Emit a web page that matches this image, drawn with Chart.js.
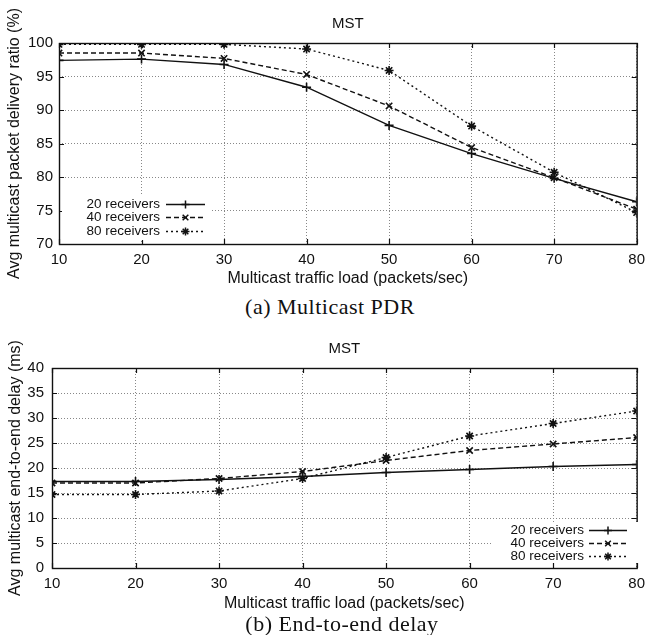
<!DOCTYPE html>
<html>
<head>
<meta charset="utf-8">
<script src="https://cdn.jsdelivr.net/npm/chart.js@4/dist/chart.umd.min.js"></script>
<style>
  body { margin: 0; background: #fff; width: 652px; height: 635px; position: relative; overflow: hidden; }
  .box { position: absolute; left: 0; width: 652px; }
  .cap { position: absolute; left: 0; width: 652px; text-align: center; font-family: "Liberation Serif", "DejaVu Serif", serif; font-size: 22px; letter-spacing: 0.5px; color: #111; }
</style>
</head>
<body>
<div class="box" style="top:0;height:290px"><canvas id="pdr"></canvas></div>
<div class="cap" id="capA" style="top:294px;left:4px">(a) Multicast PDR</div>
<div class="box" style="top:320px;height:295px"><canvas id="delay"></canvas></div>
<div class="cap" id="capB" style="top:611px;left:16px">(b) End-to-end delay</div>
<script>
// traffic load on x, one array per receiver count
var loads = [10, 20, 30, 40, 50, 60, 70, 80];
var seriesNames = ["20 receivers", "40 receivers", "80 receivers"];

var pdr20 = [97.4, 97.6, 96.8, 93.4, 87.7, 83.5, 79.8, 76.3];
var pdr40 = [98.5, 98.5, 97.7, 95.3, 90.6, 84.4, 79.9, 75.2];
var pdr80 = [99.8, 99.8, 99.8, 99.1, 95.9, 87.6, 80.7, 74.7];

var delay20 = [17.3, 17.3, 17.7, 18.3, 19.1, 19.7, 20.3, 20.7];
var delay40 = [17.0, 17.0, 17.9, 19.3, 21.5, 23.5, 24.8, 26.1];
var delay80 = [14.7, 14.7, 15.4, 17.9, 22.1, 26.4, 28.9, 31.4];

var FONT = "'Liberation Sans', Arial, Helvetica, sans-serif";
var INK = "#111";

var styles = [
  { dash: [], point: "cross" },
  { dash: [5, 3], point: "crossRot" },
  { dash: [2, 3], point: "star" }
];

function makeDatasets(lists) {
  return lists.map(function (vals, i) {
    return {
      label: seriesNames[i],
      data: loads.map(function (x, j) { return { x: x, y: vals[j] }; }),
      borderColor: INK,
      backgroundColor: INK,
      borderWidth: 1.4,
      borderDash: styles[i].dash,
      pointStyle: styles[i].point,
      pointRadius: 4.5,
      pointBorderWidth: 1.6,
      pointBorderColor: INK,
      tension: 0
    };
  });
}

// frame, inward ticks, title and gnuplot-like key
var gnuplotBits = {
  id: "gnuplotBits",
  afterDraw: function (chart, args, opts) {
    var ctx = chart.ctx, a = chart.chartArea;
    var xs = chart.scales.x, ys = chart.scales.y;
    ctx.save();
    ctx.strokeStyle = INK;
    ctx.lineWidth = 1.2;
    ctx.setLineDash([]);
    ctx.beginPath();
    xs.ticks.forEach(function (t) {
      var px = Math.round(xs.getPixelForValue(t.value)) + 0.5;
      ctx.moveTo(px, a.bottom); ctx.lineTo(px, a.bottom - 5);
      ctx.moveTo(px, a.top); ctx.lineTo(px, a.top + 5);
    });
    ys.ticks.forEach(function (t) {
      var py = Math.round(ys.getPixelForValue(t.value)) + 0.5;
      ctx.moveTo(a.left, py); ctx.lineTo(a.left + 5, py);
      ctx.moveTo(a.right, py); ctx.lineTo(a.right - 5, py);
    });
    ctx.stroke();
    ctx.lineWidth = 1.4;
    ctx.strokeRect(a.left + 0.5, a.top + 0.5, a.right - a.left, a.bottom - a.top);

    // title
    ctx.fillStyle = INK;
    ctx.font = "15px " + FONT;
    ctx.textAlign = "center";
    ctx.textBaseline = "middle";
    ctx.fillText(opts.title, (a.left + a.right) / 2, a.top - 19);

    // key
    var k = opts.key;
    ctx.fillStyle = "#fff";
    ctx.fillRect(k.box[0], k.box[1], k.box[2], k.box[3]);
    ctx.font = "13.5px " + FONT;
    ctx.textAlign = "right";
    chart.data.datasets.forEach(function (ds, i) {
      var y = k.rows[i];
      ctx.fillStyle = INK;
      ctx.fillText(ds.label, k.textRight, y);
      ctx.strokeStyle = INK;
      ctx.lineWidth = 1.4;
      ctx.setLineDash(ds.borderDash);
      ctx.beginPath();
      ctx.moveTo(k.lineFrom, y + 0.5);
      ctx.lineTo(k.lineTo, y + 0.5);
      ctx.stroke();
      ctx.setLineDash([]);
      ctx.lineWidth = 1.5;
      Chart.helpers.drawPoint(ctx, { pointStyle: ds.pointStyle, radius: 4, rotation: 0, borderWidth: 1.5 },
        (k.lineFrom + k.lineTo) / 2, y + 0.5);
    });
    ctx.restore();
  }
};

function makeChart(id, lists, yMin, yMax, yTitle, yAxisW, yTickPad, yTitlePad, xAxisH, padTop, key) {
  return new Chart(id, {
    type: "line",
    data: { datasets: makeDatasets(lists) },
    plugins: [gnuplotBits],
    options: {
      animation: false,
      responsive: true,
      maintainAspectRatio: false,
      layout: { padding: { top: padTop, right: 10, left: 0, bottom: 0 } },
      plugins: {
        legend: { display: false },
        title: { display: false },
        tooltip: { enabled: false },
        gnuplotBits: { title: "MST", key: key }
      },
      scales: {
        x: {
          type: "linear",
          min: loads[0],
          max: loads[loads.length - 1],
          afterFit: function (s) { s.height = xAxisH; },
          ticks: { stepSize: 10, color: INK, padding: 7, font: { family: FONT, size: 15 } },
          grid: { color: "#888", lineWidth: 1, drawTicks: false },
          border: { display: false, dash: [1, 2] },
          title: { display: true, text: "Multicast traffic load (packets/sec)", color: INK,
                   font: { family: FONT, size: 16 }, padding: { top: 0, bottom: 2 } }
        },
        y: {
          min: yMin,
          max: yMax,
          afterFit: function (s) { s.width = yAxisW; },
          ticks: { stepSize: 5, color: INK, padding: yTickPad, font: { family: FONT, size: 15 } },
          grid: { color: "#888", lineWidth: 1, drawTicks: false },
          border: { display: false, dash: [1, 2] },
          title: { display: true, text: yTitle, color: INK,
                   font: { family: FONT, size: 16 }, padding: { top: yTitlePad, bottom: 0 } }
        }
      }
    }
  });
}

makeChart("pdr", [pdr20, pdr40, pdr80], 70, 100, "Avg multicast packet delivery ratio (%)",
  59, 6, 5, 46, 43,
  { box: [62, 195, 150, 45], rows: [204, 217, 231], textRight: 160, lineFrom: 166, lineTo: 205 });

makeChart("delay", [delay20, delay40, delay80], 0, 40, "Avg multicast end-to-end delay (ms)",
  52, 8, 6, 47, 48,
  { box: [492, 202, 146, 41], rows: [210, 223, 236], textRight: 584, lineFrom: 589, lineTo: 627 });
</script>
</body>
</html>
